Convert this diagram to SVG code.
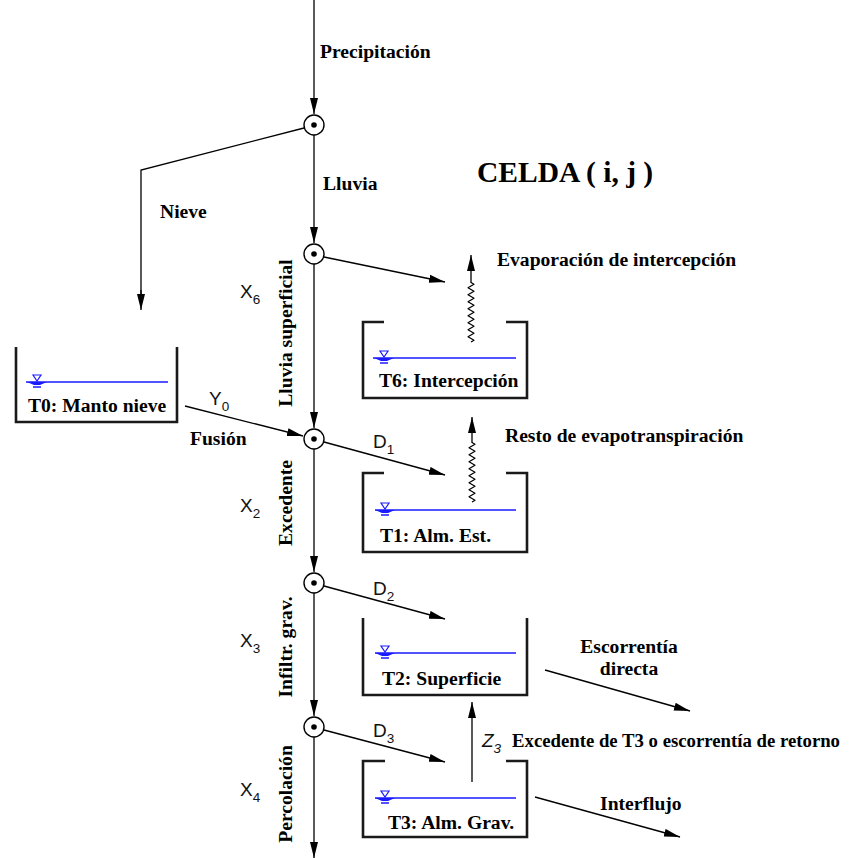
<svg xmlns="http://www.w3.org/2000/svg" width="854" height="858" viewBox="0 0 854 858">
<defs>
<marker id="ah" markerUnits="userSpaceOnUse" markerWidth="16" markerHeight="9" refX="16" refY="4.5" orient="auto">
<path d="M0,0.5 L16,4.5 L0,8.5 Z" fill="#000"/>
</marker>
<g id="wsym">
<path d="M-4,-7 L4,-7 L0,-1 Z" fill="none" stroke="#1a1aff" stroke-width="1.2"/>
<path d="M-10,0 L10,0 L3,3 L-3,3 Z" fill="#1a1aff"/>
<path d="M-4,5 L4,5" stroke="#1a1aff" stroke-width="1.5"/>
</g>
</defs>
<style>
.b{font-family:"Liberation Serif","Times New Roman",serif;font-weight:bold;font-size:19.6px;fill:#000}
.s{font-family:"Liberation Sans",Arial,sans-serif;font-size:19px;fill:#111}
.ss{font-size:13.5px}
.tank{fill:none;stroke:#1a1a1a;stroke-width:2.6;stroke-linejoin:miter}
.water{stroke:#1a1aff;stroke-width:1.6}
.ln{fill:none;stroke:#000;stroke-width:1.3}
.arr{fill:none;stroke:#000;stroke-width:1.3;marker-end:url(#ah)}
.wave{fill:none;stroke:#000;stroke-width:1.2;stroke-linejoin:round}
.node circle.o{fill:#fff;stroke:#000;stroke-width:1.4}
</style>
<rect width="854" height="858" fill="#fff"/>

<g id="connectors">
<line class="arr" x1="314" y1="0" x2="314" y2="114"/>
<line class="arr" x1="314" y1="135" x2="314" y2="243"/>
<line class="arr" x1="314" y1="264" x2="314" y2="428"/>
<line class="arr" x1="314" y1="449" x2="314" y2="572"/>
<line class="arr" x1="314" y1="593" x2="314" y2="716"/>
<line class="arr" x1="314" y1="737" x2="314" y2="858"/>
<polyline class="ln" points="304,128 141,170 141,296"/>
<line class="arr" x1="141" y1="290" x2="141" y2="310"/>
<line class="arr" x1="185" y1="406" x2="303" y2="436"/>
<line class="arr" x1="324" y1="257" x2="445" y2="282"/>
<line class="arr" x1="324" y1="442" x2="445" y2="475"/>
<line class="arr" x1="324" y1="586" x2="445" y2="619"/>
<line class="arr" x1="324" y1="730" x2="445" y2="762"/>
<line class="arr" x1="472" y1="782" x2="472" y2="702"/>
<line class="arr" x1="545" y1="670" x2="690" y2="711"/>
<line class="arr" x1="535" y1="797" x2="680" y2="837"/>
<path class="wave" d="M471,342 l3,-1.75 l-6,-3.5 l6,-3.5 l-6,-3.5 l6,-3.5 l-6,-3.5 l6,-3.5 l-6,-3.5 l6,-3.5 l-6,-3.5 l6,-3.5 l-6,-3.5 l6,-3.5 l-6,-3.5 l6,-3.5 l-6,-3.5 l6,-3.5 l-3,-1.75"/>
<line class="arr" x1="471" y1="283" x2="471" y2="255"/>
<path class="wave" d="M472,502 l3,-1.75 l-6,-3.5 l6,-3.5 l-6,-3.5 l6,-3.5 l-6,-3.5 l6,-3.5 l-6,-3.5 l6,-3.5 l-6,-3.5 l6,-3.5 l-6,-3.5 l6,-3.5 l-6,-3.5 l6,-3.5 l-6,-3.5 l6,-3.5 l-3,-1.75"/>
<line class="arr" x1="472" y1="443" x2="472" y2="417"/>
</g>

<g id="node1" class="node"><circle class="o" cx="314" cy="125" r="10"/><circle cx="314" cy="125" r="2.8"/></g>
<g id="node2" class="node"><circle class="o" cx="314" cy="254" r="10"/><circle cx="314" cy="254" r="2.8"/></g>
<g id="node3" class="node"><circle class="o" cx="314" cy="439" r="10"/><circle cx="314" cy="439" r="2.8"/></g>
<g id="node4" class="node"><circle class="o" cx="314" cy="583" r="10"/><circle cx="314" cy="583" r="2.8"/></g>
<g id="node5" class="node"><circle class="o" cx="314" cy="727" r="10"/><circle cx="314" cy="727" r="2.8"/></g>

<g id="T0">
<path class="tank" d="M16,347 V422 H177 V347"/>
<line class="water" x1="26" y1="382" x2="168" y2="382"/>
<use href="#wsym" x="37" y="382"/>
<text class="b" x="28" y="412">T0: Manto nieve</text>
</g>
<g id="T6">
<path class="tank" d="M384,322 H363 V398 H527 V322 H506"/>
<line class="water" x1="373" y1="358" x2="516" y2="358"/>
<use href="#wsym" x="384" y="358"/>
<text class="b" x="379" y="387">T6: Intercepción</text>
</g>
<g id="T1">
<path class="tank" d="M384,473 H363 V552 H527 V473 H506"/>
<line class="water" x1="375" y1="510" x2="516" y2="510"/>
<use href="#wsym" x="385" y="510"/>
<text class="b" x="380" y="542">T1: Alm. Est.</text>
</g>
<g id="T2">
<path class="tank" d="M363,618 V695 H527 V618"/>
<line class="water" x1="375" y1="653" x2="516" y2="653"/>
<use href="#wsym" x="385" y="653"/>
<text class="b" x="382" y="685">T2: Superficie</text>
</g>
<g id="T3">
<path class="tank" d="M385,761 H363 V837 H527 V761 H506"/>
<line class="water" x1="375" y1="798" x2="516" y2="798"/>
<use href="#wsym" x="385" y="798"/>
<text class="b" x="388" y="829">T3: Alm. Grav.</text>
</g>

<g id="labels">
<text class="b" x="320" y="58">Precipitación</text>
<text class="b" x="323" y="190">Lluvia</text>
<text class="b" x="160" y="218">Nieve</text>
<text class="b" x="477" y="182" style="font-size:29.5px">CELDA ( i, j )</text>
<text class="b" x="497" y="266">Evaporación de intercepción</text>
<text class="b" x="505" y="442">Resto de evapotranspiración</text>
<text class="b" x="190" y="445">Fusión</text>
<text class="b" x="629" y="653" text-anchor="middle">Escorrentía</text>
<text class="b" x="629" y="675" text-anchor="middle">directa</text>
<text class="b" x="512" y="747" textLength="328" lengthAdjust="spacingAndGlyphs">Excedente de T3 o escorrentía de retorno</text>
<text class="b" x="600" y="810">Interflujo</text>
<text class="b" transform="translate(292,333) rotate(-90)" text-anchor="middle">Lluvia superficial</text>
<text class="b" transform="translate(292,503) rotate(-90)" text-anchor="middle">Excedente</text>
<text class="b" transform="translate(292,647) rotate(-90)" text-anchor="middle">Infiltr. grav.</text>
<text class="b" transform="translate(292,794) rotate(-90)" text-anchor="middle">Percolación</text>
<text class="s" x="240" y="298">X<tspan class="ss" dy="6">6</tspan></text>
<text class="s" x="240" y="512">X<tspan class="ss" dy="6">2</tspan></text>
<text class="s" x="240" y="647">X<tspan class="ss" dy="6">3</tspan></text>
<text class="s" x="240" y="796">X<tspan class="ss" dy="6">4</tspan></text>
<text class="s" x="209" y="405">Y<tspan class="ss" dy="6">0</tspan></text>
<text class="s" x="373" y="448">D<tspan class="ss" dy="6">1</tspan></text>
<text class="s" x="373" y="595">D<tspan class="ss" dy="6">2</tspan></text>
<text class="s" x="373" y="737">D<tspan class="ss" dy="6">3</tspan></text>
<text class="s" x="482" y="747" font-style="italic">Z<tspan class="ss" dy="6">3</tspan></text>
</g>
</svg>
